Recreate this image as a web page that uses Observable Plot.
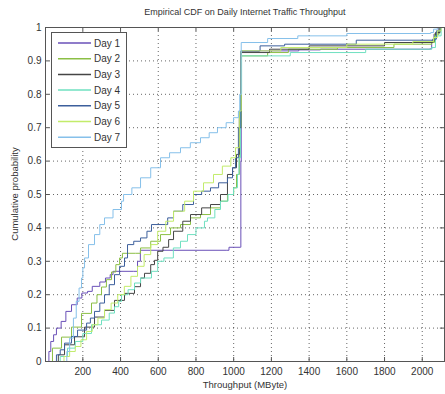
<!DOCTYPE html>
<html><head><meta charset="utf-8">
<script src="https://cdn.jsdelivr.net/npm/d3@7"></script>
<script src="https://cdn.jsdelivr.net/npm/@observablehq/plot@0.6"></script>
<style>
body{margin:0;background:#fff;}
#wrap{position:relative;width:445px;height:394px;font-family:"Liberation Sans",Arial,sans-serif;color:#333;}
#title{position:absolute;left:45px;width:400px;top:7px;text-align:center;font-size:9px;}
#xlabel{position:absolute;left:45px;width:400px;top:379px;text-align:center;font-size:9.5px;}
#ylabel{position:absolute;left:14px;top:194px;transform:translate(-50%,-50%) rotate(-90deg);white-space:nowrap;font-size:9.5px;}
#legend{position:absolute;left:51px;top:32px;}
</style></head>
<body><div id="wrap"><div id="chart"></div><div id="title"></div><div id="xlabel"></div><div id="ylabel"></div><svg id="legend" width="77" height="117"></svg></div>
<script>
const titleText = "Empirical CDF on Daily Internet Traffic Throughput";
const xLabel = "Throughput (MByte)";
const yLabel = "Cumulative probability";
const seriesNames = ["Day 1","Day 2","Day 3","Day 4","Day 5","Day 6","Day 7"];
const seriesColors = ["#6a50b8","#8bbf45","#454545","#6fe0c0","#3c5f9c","#c2ec6a","#86c0ea"];
const xTicks = [200,400,600,800,1000,1200,1400,1600,1800,2000];
const yTicks = [0,0.1,0.2,0.3,0.4,0.5,0.6,0.7,0.8,0.9,1];

const day1 = [[15,0],[20,0.03],[30,0.06],[45,0.08],[60,0.1],[85,0.12],[110,0.15],[140,0.17],[170,0.19],[195,0.205],[225,0.21],[250,0.225],[290,0.238],[320,0.25],[345,0.26],[360,0.27],[470,0.27],[490,0.3],[505,0.333],[960,0.333],[975,0.342],[1035,0.342],[1038,0.6],[1040,0.928],[1135,0.93],[1345,0.933],[1460,0.935],[2040,0.936],[2050,0.96],[2062,0.98],[2085,1],[2110,1]];
const day2 = [[23,0],[39,0.04],[87,0.073],[140,0.103],[193,0.144],[246,0.175],[275,0.2],[299,0.223],[325,0.245],[352,0.268],[375,0.29],[395,0.31],[410,0.324],[480,0.324],[506,0.34],[560,0.36],[612,0.38],[665,0.4],[718,0.41],[771,0.43],[824,0.44],[877,0.46],[930,0.48],[967,0.5],[1000,0.52],[1015,0.56],[1030,0.7],[1040,0.915],[1180,0.925],[1290,0.935],[1550,0.94],[1850,0.95],[2050,0.955],[2065,0.98],[2090,1],[2112,1]];
const day3 = [[39,0],[70,0.02],[103,0.05],[156,0.074],[209,0.103],[262,0.133],[315,0.153],[368,0.183],[421,0.204],[474,0.224],[506,0.25],[527,0.264],[560,0.29],[580,0.303],[597,0.33],[625,0.342],[655,0.365],[681,0.39],[730,0.42],[771,0.44],[830,0.46],[877,0.47],[930,0.5],[967,0.56],[994,0.58],[1015,0.62],[1030,0.75],[1040,0.925],[1190,0.935],[1400,0.945],[1800,0.955],[2055,0.96],[2070,0.985],[2095,1],[2112,1]];
const day4 = [[50,0],[80,0.015],[119,0.04],[160,0.06],[200,0.084],[246,0.11],[299,0.124],[340,0.145],[368,0.164],[390,0.18],[405,0.2],[440,0.215],[474,0.235],[506,0.25],[564,0.27],[597,0.3],[630,0.31],[680,0.34],[718,0.36],[755,0.38],[800,0.4],[845,0.42],[861,0.43],[900,0.455],[930,0.48],[970,0.5],[999,0.52],[1020,0.56],[1028,0.61],[1036,0.8],[1042,0.915],[1300,0.925],[1700,0.935],[2050,0.94],[2070,0.975],[2100,1],[2115,1]];
const day5 = [[40,0],[60,0.02],[80,0.035],[103,0.055],[140,0.075],[172,0.094],[220,0.115],[240,0.13],[262,0.15],[290,0.175],[315,0.2],[340,0.23],[368,0.26],[395,0.285],[421,0.31],[437,0.35],[470,0.36],[506,0.37],[540,0.39],[564,0.41],[620,0.41],[650,0.43],[681,0.45],[730,0.47],[787,0.5],[830,0.51],[877,0.52],[920,0.535],[967,0.55],[994,0.58],[1010,0.61],[1025,0.7],[1038,0.93],[1140,0.945],[1270,0.95],[1650,0.962],[2055,0.965],[2075,0.99],[2095,1],[2112,1]];
const day6 = [[70,0],[100,0.015],[130,0.03],[160,0.045],[190,0.065],[220,0.09],[250,0.11],[280,0.13],[315,0.155],[350,0.175],[385,0.2],[420,0.225],[455,0.255],[490,0.285],[525,0.32],[560,0.35],[597,0.39],[640,0.42],[681,0.45],[740,0.48],[787,0.51],[840,0.535],[893,0.56],[940,0.585],[985,0.61],[1010,0.64],[1030,0.75],[1040,0.93],[1250,0.94],[1600,0.95],[1950,0.958],[2060,0.97],[2080,0.99],[2100,1],[2115,1]];
const day7 = [[100,0],[115,0.03],[130,0.07],[150,0.13],[165,0.18],[180,0.22],[193,0.25],[200,0.28],[209,0.31],[230,0.35],[262,0.38],[290,0.41],[315,0.43],[360,0.455],[405,0.48],[416,0.5],[460,0.52],[506,0.55],[560,0.58],[612,0.61],[660,0.625],[718,0.64],[770,0.655],[824,0.67],[870,0.685],[914,0.7],[960,0.715],[999,0.73],[1025,0.75],[1032,0.8],[1040,0.955],[1180,0.967],[1340,0.975],[1600,0.982],[2045,0.985],[2060,0.995],[2080,1],[2110,1]];

const allSeries = [day1,day2,day3,day4,day5,day6,day7];
const rows = allSeries.flatMap((s,i)=>s.map(([x,p])=>({x,p,day:seriesNames[i]})));
const xDomain = [2,2118];

const chart = Plot.plot({
  width:445, height:394,
  marginTop:27, marginBottom:33, marginLeft:45, marginRight:1,
  style:{fontFamily:"Liberation Sans, Arial, sans-serif", fontSize:"10px", color:"#333", background:"#fff"},
  x:{domain:xDomain},
  y:{domain:[0,1]},
  color:{domain:seriesNames, range:seriesColors},
  marks:[
    Plot.ruleX(xTicks,{x:d=>d, stroke:"#000", strokeOpacity:0.6, strokeDasharray:"1,3"}),
    Plot.ruleY(yTicks.slice(1,-1),{y:d=>d, stroke:"#000", strokeOpacity:0.6, strokeDasharray:"1,3"}),
    Plot.ruleX(xTicks,{x:d=>d, y1:0, y2:0.012, stroke:"#555"}),
    Plot.ruleX(xTicks,{x:d=>d, y1:0.988, y2:1, stroke:"#555"}),
    Plot.ruleY(yTicks,{y:d=>d, x1:xDomain[0], x2:xDomain[0]+22, stroke:"#555"}),
    Plot.ruleY(yTicks,{y:d=>d, x1:xDomain[1]-22, x2:xDomain[1], stroke:"#555"}),
    Plot.line(rows,{x:"x", y:"p", z:"day", stroke:"day", curve:"step-after", strokeWidth:1}),
    Plot.frame({stroke:"#555"}),
    Plot.axisX({ticks:xTicks, tickSize:0, tickPadding:6, label:null, tickFormat:d=>String(d)}),
    Plot.axisY({ticks:yTicks, tickSize:0, tickPadding:4, label:null, tickFormat:d=>String(+d.toFixed(1))})
  ]
});
document.getElementById("chart").appendChild(chart);
document.getElementById("title").textContent = titleText;
document.getElementById("xlabel").textContent = xLabel;
document.getElementById("ylabel").textContent = yLabel;

const lg = d3.select("#legend");
lg.append("rect").attr("x",0.5).attr("y",0.5).attr("width",75).attr("height",115).attr("fill","#fff").attr("stroke","#555");
seriesNames.forEach((n,i)=>{
  const y = 11 + i*15.7;
  lg.append("line").attr("x1",7).attr("x2",40).attr("y1",y).attr("y2",y).attr("stroke",seriesColors[i]).attr("stroke-width",1.5);
  lg.append("text").attr("x",43).attr("y",y+3.5).attr("font-size",10).attr("fill","#333")
    .attr("font-family","Liberation Sans, Arial, sans-serif").text(n);
});
</script></body></html>
